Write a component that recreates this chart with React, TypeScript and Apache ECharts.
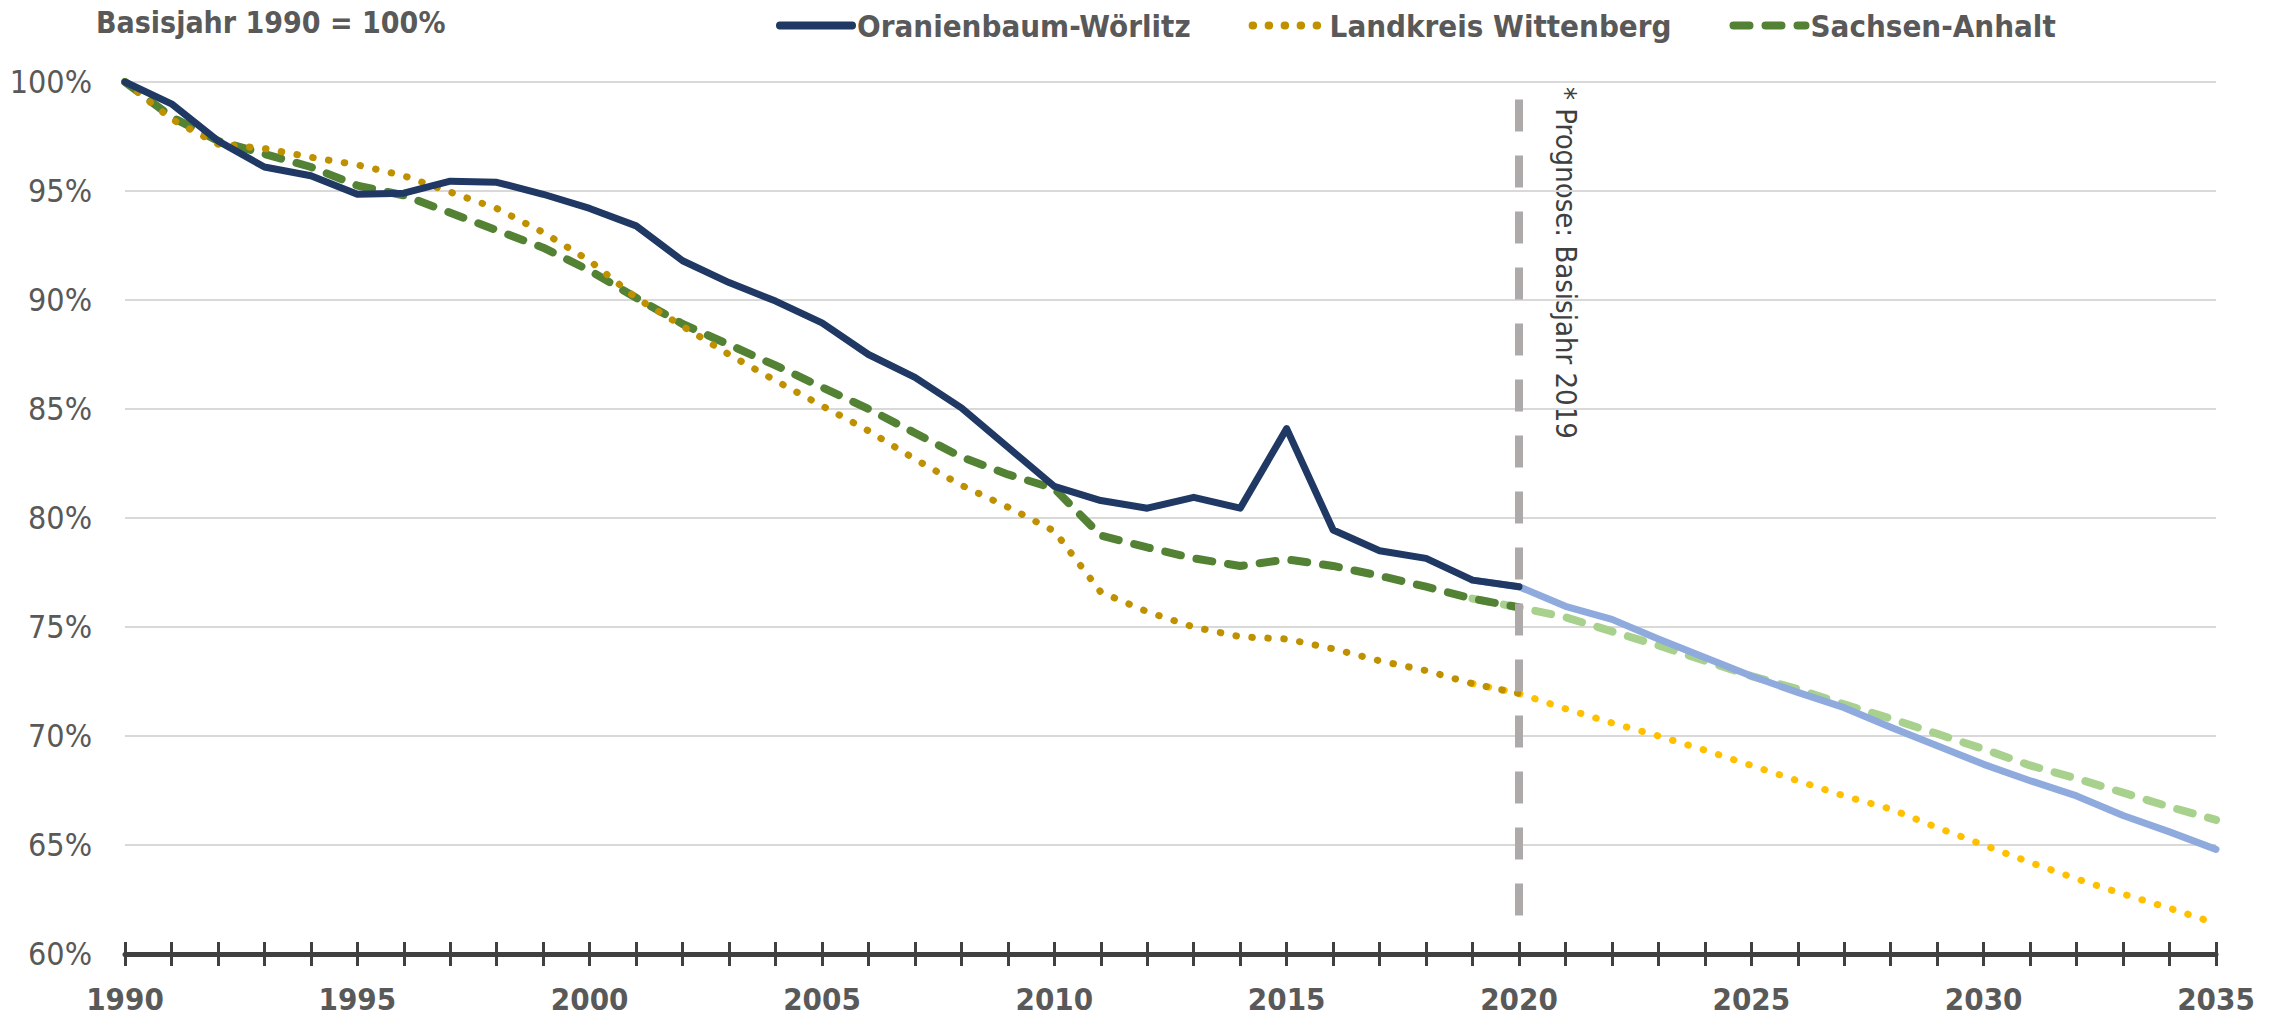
import React, { useEffect, useRef } from "react";
import * as echarts from "echarts";

// ---------- data ----------
const HIST_YEARS = [
  1990, 1991, 1992, 1993, 1994, 1995, 1996, 1997, 1998, 1999, 2000, 2001, 2002, 2003, 2004, 2005,
  2006, 2007, 2008, 2009, 2010, 2011, 2012, 2013, 2014, 2015, 2016, 2017, 2018, 2019, 2020,
];
const FORECAST_YEARS = [
  2019, 2020, 2021, 2022, 2023, 2024, 2025, 2026, 2027, 2028, 2029, 2030, 2031, 2032, 2033, 2034, 2035,
];

const OW_HIST = [
  100, 99.0, 97.3, 96.1, 95.7, 94.85, 94.9, 95.45, 95.4, 94.85, 94.2, 93.4, 91.8, 90.8, 89.95, 88.95,
  87.5, 86.45, 85.05, 83.25, 81.45, 80.8, 80.45, 80.95, 80.45, 84.1, 79.45, 78.5, 78.15, 77.15, 76.85,
];
const LW_HIST = [
  100, 98.3, 97.15, 96.95, 96.55, 96.2, 95.7, 94.95, 94.2, 93.1, 91.8, 90.1, 88.8, 87.5, 86.3, 85.15,
  84.0, 82.7, 81.5, 80.5, 79.4, 76.6, 75.7, 75.0, 74.55, 74.45, 74.0, 73.45, 73.0, 72.4, 71.95,
];
const SA_HIST = [
  100, 98.4, 97.3, 96.7, 96.1, 95.25, 94.8, 94.0, 93.2, 92.4, 91.35, 90.1, 88.9, 87.95, 87.0, 86.0,
  85.0, 83.9, 82.8, 82.0, 81.35, 79.2, 78.65, 78.15, 77.8, 78.1, 77.8, 77.35, 76.85, 76.3, 75.9,
];

const OW_FORECAST = [
  77.15, 76.85, 75.95, 75.35, 74.45, 73.6, 72.75, 72.0, 71.3, 70.4, 69.55, 68.7, 67.95, 67.25, 66.35, 65.6, 64.8,
];
const LW_FORECAST = [
  72.4, 71.95, 71.25, 70.6, 70.0, 69.35, 68.65, 67.95, 67.25, 66.65, 65.8, 65.0, 64.2, 63.45, 62.75, 62.1, 61.4,
];
const SA_FORECAST = [
  76.3, 75.9, 75.45, 74.8, 74.15, 73.45, 72.75, 72.15, 71.45, 70.8, 70.1, 69.4, 68.65, 68.05, 67.4, 66.75, 66.15,
];

const SERIES_NAMES = ["Oranienbaum-Wörlitz", "Landkreis Wittenberg", "Sachsen-Anhalt"];
const FORECAST_START = 2020;
const FORECAST_LINE_RANGE = [99.2, 61.75];
const Y_MIN = 60;
const Y_MAX = 100;
const X_MIN = 1990;
const X_MAX = 2035;
const TITLE_TEXT = "Basisjahr 1990 = 100%";
const NOTE_TEXT = "* Prognose: Basisjahr 2019";

const FONT = "'Liberation Sans Narrow', 'DejaVu Sans Condensed', 'Roboto Condensed', 'Noto Sans', sans-serif";

const pairs = (xs: number[], ys: number[]) => xs.map((x, i) => [x, ys[i]]);

export default function App() {
  const ref = useRef<HTMLDivElement>(null);

  useEffect(() => {
    document.body.style.margin = "0";
    if (!ref.current) return;
    const chart = echarts.init(ref.current, undefined, { renderer: "svg" });

    const dotted = [0.5, 15.5];
    const dashed = [16, 16];

    const option: any = {
      animation: false,
      textStyle: { fontFamily: FONT },
      grid: { left: 125, right: 61, top: 82, bottom: 62, containLabel: false },
      legend: {
        data: SERIES_NAMES,
        left: 771,
        top: 5,
        itemWidth: 72,
        itemHeight: 16,
        itemGap: 58,
        itemStyle: { opacity: 0 },
        lineStyle: { width: 8, cap: "round" },
        textStyle: { fontSize: 31, fontWeight: "bold", color: "#595959", fontFamily: FONT },
      },
      graphic: [
        {
          type: "text",
          left: 96,
          top: 7,
          style: {
            text: TITLE_TEXT,
            fontSize: 30,
            fontWeight: "bold",
            fill: "#595959",
            fontFamily: FONT,
          },
        },
        {
          type: "text",
          x: 1566,
          y: 87,
          rotation: -Math.PI / 2,
          style: {
            text: NOTE_TEXT,
            fontSize: 29,
            fill: "#404040",
            fontFamily: FONT,
            align: "left",
            verticalAlign: "middle",
          },
        },
      ],
      xAxis: [
        {
          type: "value",
          min: X_MIN,
          max: X_MAX,
          interval: 1,
          axisLine: { show: true, onZero: false, lineStyle: { color: "#404040", width: 5 } },
          axisTick: { show: true, inside: false, length: 12, lineStyle: { color: "#404040", width: 3 } },
          axisLabel: {
            margin: 29,
            fontSize: 31,
            fontWeight: "bold",
            color: "#595959",
            fontFamily: FONT,
            formatter: (v: number) => (v % 5 === 0 ? String(v) : ""),
          },
          splitLine: { show: false },
        },
        {
          type: "value",
          min: X_MIN,
          max: X_MAX,
          interval: 1,
          position: "bottom",
          axisLine: { show: false, onZero: false },
          axisTick: { show: true, inside: true, length: 12, lineStyle: { color: "#404040", width: 3 } },
          axisLabel: { show: false },
          splitLine: { show: false },
        },
      ],
      yAxis: {
        type: "value",
        min: Y_MIN,
        max: Y_MAX,
        interval: 5,
        axisLine: { show: false },
        axisTick: { show: false },
        axisLabel: {
          margin: 33,
          fontSize: 32,
          color: "#595959",
          fontFamily: FONT,
          formatter: "{value}%",
        },
        splitLine: { lineStyle: { color: "#D9D9D9", width: 2 } },
      },
      series: [
        {
          name: "forecast-marker",
          type: "line",
          data: [],
          silent: true,
          markLine: {
            silent: true,
            symbol: "none",
            label: { show: false },
            lineStyle: { color: "#AEAAAA", width: 8, type: [32, 24] },
            data: [
              [
                { coord: [FORECAST_START, FORECAST_LINE_RANGE[0]] },
                { coord: [FORECAST_START, FORECAST_LINE_RANGE[1]] },
              ],
            ],
          },
        },
        {
          name: "SA Prognose",
          type: "line",
          symbol: "none",
          data: pairs(FORECAST_YEARS, SA_FORECAST),
          lineStyle: { color: "#A9D18E", width: 8, type: dashed, cap: "round" },
        },
        {
          name: "LW Prognose",
          type: "line",
          symbol: "none",
          data: pairs(FORECAST_YEARS, LW_FORECAST),
          lineStyle: { color: "#FFC000", width: 7, type: dotted, cap: "round" },
        },
        {
          name: "OW Prognose",
          type: "line",
          symbol: "none",
          data: pairs(FORECAST_YEARS, OW_FORECAST),
          lineStyle: { color: "#8FAADC", width: 7, cap: "round", join: "round" },
        },
        {
          name: SERIES_NAMES[2],
          type: "line",
          symbol: "none",
          color: "#548235",
          data: pairs(HIST_YEARS, SA_HIST),
          lineStyle: { color: "#548235", width: 8, type: dashed, cap: "round" },
        },
        {
          name: SERIES_NAMES[1],
          type: "line",
          symbol: "none",
          color: "#BF9000",
          data: pairs(HIST_YEARS, LW_HIST),
          lineStyle: { color: "#BF9000", width: 7, type: dotted, cap: "round" },
        },
        {
          name: SERIES_NAMES[0],
          type: "line",
          symbol: "none",
          color: "#1F3864",
          data: pairs(HIST_YEARS, OW_HIST),
          lineStyle: { color: "#1F3864", width: 7, cap: "round", join: "round" },
        },
      ],
    };

    chart.setOption(option);
    return () => chart.dispose();
  }, []);

  return <div ref={ref} style={{ width: 2277, height: 1016 }} />;
}
